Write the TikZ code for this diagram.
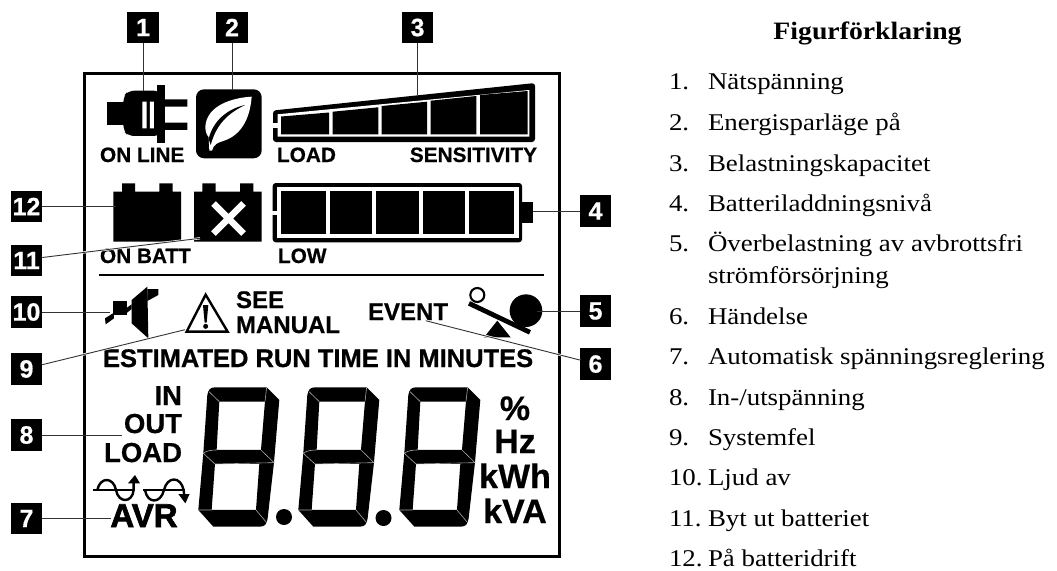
\documentclass[tikz,border=0pt]{standalone}
\usepackage{fontspec}
\setmainfont{Liberation Serif}[FakeStretch=1.12]
\newfontfamily\lcdfont{Liberation Sans}[BoldFont={Liberation Sans Bold},BoldFeatures={FakeBold=0.6}]
\newfontface\heavyfont{Liberation Sans Bold}[FakeBold=2]
\newfontface\titlefont{Liberation Serif Bold}[FakeStretch=1.11]
\newcommand{\fs}[1]{\fontsize{#1}{#1}\selectfont}
\tikzset{
  callout/.style={fill=black,text=white,minimum size=31.5pt,inner sep=0pt,outer sep=0pt,font=\lcdfont\bfseries\fs{25}},
  leader/.style={draw=black!80,line width=0.9pt},
  lcd/.style={inner sep=0pt,outer sep=0pt,font=\lcdfont\bfseries\fs{#1}},
  lcd/.default=20.8,
  legend/.style={inner sep=0pt,outer sep=0pt,anchor=base west,font=\fs{24}},
  sep/.style={draw=black!35,line width=0.6pt},
  zoomed/.style={shift={(#1)},x=0.3333pt,y=-0.3333pt},
}
\newcommand{\lcddigit}[1]{%
  \begin{scope}[shift={(#1,280)},x=0.3333pt,y=-0.3333pt]
    \fill[black,even odd rule]
      (622,345) .. controls (625,330) and (630,322) .. (645,322) -- (800,322) -- (838,360) -- (822,548)
      -- (803,715) .. controls (800,732) and (795,740) .. (780,740) -- (640,740) -- (595,690) -- (610,520) -- cycle
      (658,365) -- (795,365) -- (783,510) -- (650,510) -- cycle
      (645,552) -- (778,552) -- (768,690) -- (635,690) -- cycle;
    \draw[sep] (627,335) -- (658,365) (800,322) -- (795,365)
      (610,520) .. controls (620,512) and (635,510) .. (650,510)
      (610,520) -- (645,552) -- (822,548) -- (783,510)
      (595,690) -- (635,690) (768,690) -- (800,728);
  \end{scope}}
\begin{document}
\begin{tikzpicture}[x=1pt,y=-1pt]
\useasboundingbox (0,0) rectangle (1057,570);
% frame
\draw[line width=3pt] (84.5,73.5) rectangle (559.5,556);
\draw[line width=2.6pt] (98.5,275) -- (543.5,275);
% plug
\begin{scope}[zoomed={0,0}]
  \fill (320,305) rectangle (375,375);
  \fill[rounded corners=6pt] (370,340) -- (370,290) -- (385,272) -- (480,272) -- (480,408) -- (385,408) -- (370,392) -- cycle;
  \fill (470,255) rectangle (495,430);
  \fill (490,298) rectangle (562,320) (490,368) rectangle (562,390);
  \fill[white] (427,305) rectangle (440,385) (450,305) rectangle (462,385);
\end{scope}
% leaf
\fill[rounded corners=8pt] (196,89.3) rectangle (261.7,158.3);
\begin{scope}[zoomed={190,85}]
  \fill[white] (185,35) .. controls (130,38) and (50,60) .. (46,125) .. controls (46,140) and (50,150) .. (56,156)
    -- (58,197) -- (66,197) .. controls (70,178) and (85,172) .. (100,168) .. controls (155,150) and (180,100) .. (185,35) -- cycle;
  \fill (56,162) .. controls (68,110) and (110,72) .. (165,60) .. controls (115,85) and (80,115) .. (62,180) -- cycle;
\end{scope}
% load bar
\fill[rounded corners=3pt] (273,142) -- (273,110.5) -- (535,83) -- (535,142) -- cycle;
\fill[white] (277.5,114.3) -- (529.3,90) -- (529.3,136.7) -- (277.5,136.7) -- cycle;
\fill[white] (272,123) rectangle (279,128);
\foreach \xa/\xb/\ya/\yb in {281/329/116.5/112.5, 332.7/378.3/111.7/107.3, 381.7/427/106/101.7, 430.7/476.3/100.7/96, 480/527.7/95/91}
  \fill (\xa,\ya) -- (\xb,\yb) -- (\xb,134.3) -- (\xa,134.3) -- cycle;
% battery bar
\fill[rounded corners=3pt] (272.7,183) rectangle (522,242.3);
\fill[white] (276.7,187.3) rectangle (519.3,237.7);
\fill[white] (272,211) rectangle (279,215);
\foreach \xa/\xb in {281/325.7, 329.7/372.3, 376/418.7, 422.7/465.3, 469.3/514.3}
  \fill (\xa,190.7) rectangle (\xb,234.3);
\fill (522,202) rectangle (533.3,223);
% batteries
\fill (113.3,191.7) rectangle (181,241.7) (122,183.3) rectangle (135,192) (159.3,183.3) rectangle (172.7,192);
\fill (194,191.7) rectangle (261.7,241.7) (202.3,183.3) rectangle (215.7,192) (240,183.3) rectangle (253.3,192);
\draw[white,line width=6.5pt] (213.5,203.5) -- (243.5,233.5) (243.5,203.5) -- (213.5,233.5);
% mute
\begin{scope}[zoomed={90,285}]
  \fill (68,47) rectangle (112,90);
  \fill (125,45) -- (172,5) -- (175,160) -- (125,115) -- cycle;
  \fill (172,12) -- (205,12) -- (205,30) -- (172,48) -- cycle;
  \fill (45,100) -- (72,83) -- (72,100) -- (47,118) -- cycle;
  \fill (105,72) -- (125,58) -- (125,72) -- (105,88) -- cycle;
\end{scope}
% warning triangle
\begin{scope}[zoomed={0,280}]
  \draw[line width=2.4pt,line join=miter] (617,44) -- (683,155) -- (560,155) -- cycle;
  \fill (609,75) -- (625,75) -- (620,128) -- (614,128) -- cycle;
  \fill (617,139) circle (7.5);
\end{scope}
% see-saw
\begin{scope}[zoomed={280,280}]
  \draw[line width=2.1pt] (592,45) circle (21);
  \draw[line width=4.8pt] (567,70) -- (750,157);
  \fill (738,92) circle (49);
  \fill (612,172) -- (692,172) -- (652,122) -- cycle;
\end{scope}
% AC waves
\begin{scope}[zoomed={90,470},line width=2.4pt]
  \draw (10,60) -- (132,60);
  \draw (160,60) -- (285,60);
  \draw (22,60) .. controls (30,20) and (70,20) .. (78,60) .. controls (85,100) and (127,100) .. (131,60) -- (131,34);
  \draw (165,60) .. controls (172,102) and (212,102) .. (222,60) .. controls (232,18) and (272,18) .. (281,60) -- (283,80);
  \fill (114,40) -- (150,40) -- (135,15) -- cycle;
  \fill (265,72) -- (299,72) -- (286,100) -- cycle;
\end{scope}
% digits
\lcddigit{0}\lcddigit{100}\lcddigit{201}
\fill (284,517) circle (8) (383.5,518) circle (8);
% LCD texts
\node[lcd,anchor=base west] (online) at (100,162) {ON LINE};
\node[lcd,anchor=base west] (loadbar) at (277,162) {LOAD};
\node[lcd,anchor=base east] (sens) at (537,162) {SENSITIVITY};
\node[lcd,anchor=base west] (onbatt) at (100,263) {ON BATT};
\node[lcd,anchor=base west] (low) at (278,263) {LOW};
\node[lcd=24,anchor=base west] (see) at (236,308) {SEE};
\node[lcd=24,anchor=base east] (manual) at (340,333) {MANUAL};
\node[lcd=24,anchor=base west] (event) at (368,320) {EVENT};
\node[lcd=25.5,anchor=base west] (est) at (103,367) {ESTIMATED RUN TIME IN MINUTES};
\node[lcd=27.5,anchor=base east] (in) at (182,405) {IN};
\node[lcd=27.5,anchor=base east] (out) at (182,433) {OUT};
\node[lcd=27.5,anchor=base east] (load) at (182,462) {LOAD};
\node[inner sep=0pt,outer sep=0pt,font=\heavyfont\fs{33},anchor=base] (avr) at (144,527) {AVR};
\node[lcd=34,anchor=base] (pct) at (515,420) {\%};
\node[lcd=34,anchor=base] (hz) at (515,453) {Hz};
\node[lcd=34,anchor=base] (kwh) at (515,488) {kWh};
\node[lcd=34,anchor=base] (kva) at (515,523) {kVA};
% callouts
\node[callout] (n1) at (143,27.5) {1};
\node[callout] (n2) at (232,27.5) {2};
\node[callout] (n3) at (417.5,27.5) {3};
\node[callout] (n4) at (595.5,211) {4};
\node[callout] (n5) at (595.5,311) {5};
\node[callout] (n6) at (595.5,364) {6};
\node[callout] (n7) at (26.5,518.5) {7};
\node[callout] (n8) at (26.5,435) {8};
\node[callout] (n9) at (26.5,369) {9};
\node[callout] (n10) at (26.5,312) {10};
\node[callout] (n11) at (26.5,260.5) {11};
\node[callout] (n12) at (26.5,206.5) {12};
% leader ends
\coordinate (e1) at (143,91);
\coordinate (e2) at (232,90);
\coordinate (e3) at (417.5,95);
\coordinate (e4) at (533,211);
\coordinate (e5) at (537,311);
\coordinate (e6) at (425.7,320.7);
\coordinate (e7) at (111,518.5);
\coordinate (e8) at (122,435);
\coordinate (e9) at (185,329.7);
\coordinate (e10) at (110,312);
\coordinate (e11) at (200,238.3);
\coordinate (e12) at (116,206.5);
\draw[white,line width=2.2pt] (42,257.5) -- (e11) (42,364.7) -- (e9) (e6) -- (580,360);
\draw[leader] (n1) -- (e1);
\draw[leader] (n2) -- (e2);
\draw[leader] (n3) -- (e3);
\draw[leader] (n4) -- (e4);
\draw[leader] (n5) -- (e5);
\draw[leader] ([yshift=4pt]n6.west) -- (e6);
\draw[leader] (n7) -- (e7);
\draw[leader] (n8) -- (e8);
\draw[leader] ([yshift=4.3pt]n9.east) -- (e9);
\draw[leader] (n10) -- (e10);
\draw[leader] ([yshift=3pt]n11.east) -- (e11);
\draw[leader] (n12) -- (e12);
% legend
\node[inner sep=0pt,outer sep=0pt,anchor=base,font=\titlefont\fs{25}] (title) at (867.5,39) {Figurförklaring};
\foreach \nm/\y/\t in {1/89/{Nätspänning}, 2/130/{Energisparläge på}, 3/171/{Belastningskapacitet}, 4/211/{Batteriladdningsnivå},
   5/251/{Överbelastning av avbrottsfri}, 6/324/{Händelse}, 7/364/{Automatisk spänningsreglering}, 8/405/{In-/utspänning},
   9/445/{Systemfel}, 10/485/{Ljud av}, 11/526/{Byt ut batteriet}, 12/566/{På batteridrift}}{
  \node[legend] (num\nm) at (669,\y) {\nm.};
  \node[legend] (item\nm) at (708,\y) {\t};
}
\node[legend] (item5b) at (708,283) {strömförsörjning};
\end{tikzpicture}
\end{document}
